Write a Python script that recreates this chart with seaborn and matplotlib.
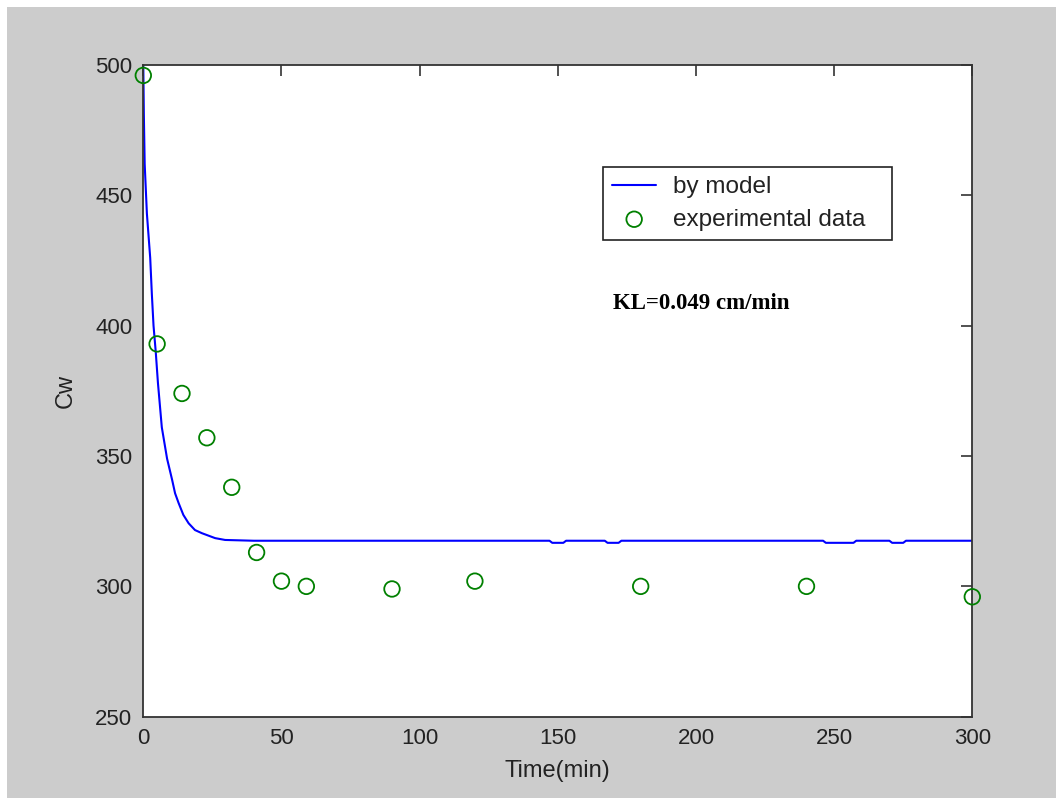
import matplotlib
matplotlib.use("Agg")
import matplotlib.pyplot as plt
from matplotlib.patches import Rectangle
import seaborn as sns
import pandas as pd

# Model prediction of Cw over time
time_model = [0, 0.2, 0.5, 1.3, 2.5, 3.1, 3.7, 4.5, 5.3, 6.7, 8.6, 10.4,
              11.5, 12.8, 14.5, 16.4, 18.7, 21.2, 26, 29.6, 40, 60, 100, 147,
              148, 152, 153, 167, 168, 172, 173, 246, 247, 257, 258, 270, 271,
              275, 276, 300]
cw_model = [500, 481, 462, 443, 426, 412, 400, 390, 378, 361, 349, 341,
            335.7, 331.9, 327.4, 324.2, 321.6, 320.4, 318.5, 317.8, 317.5,
            317.5, 317.5, 317.5, 316.7, 316.7, 317.5, 317.5, 316.7, 316.7,
            317.5, 317.5, 316.7, 316.7, 317.5, 317.5, 316.7, 316.7, 317.5,
            317.5]

# Measured concentrations
time_exp = [0, 5, 14, 23, 32, 41, 50, 59, 90, 120, 180, 240, 300]
cw_exp = [496, 393, 374, 357, 338, 313, 302, 300, 299, 302, 300, 300, 296]

x_ticks = [0, 50, 100, 150, 200, 250, 300]
y_ticks = [250, 300, 350, 400, 450, 500]

model_df = pd.DataFrame({"time": time_model, "cw": cw_model})
exp_df = pd.DataFrame({"time": time_exp, "cw": cw_exp})

sns.set_theme(style="white")
plt.rcParams["font.family"] = ["Liberation Sans", "DejaVu Sans"]

fig = plt.figure(figsize=(10.56, 7.98), dpi=100)
fig.patch.set_facecolor("#cccccc")
# thin white strips along the top and left edges
fig.add_artist(Rectangle((0, 1 - 7 / 798), 1, 7 / 798, transform=fig.transFigure,
                         facecolor="white", edgecolor="none", zorder=-1))
fig.add_artist(Rectangle((0, 0), 7 / 1056, 1, transform=fig.transFigure,
                         facecolor="white", edgecolor="none", zorder=-1))

ax = fig.add_axes([143.3 / 1056, 81.3 / 798, 829 / 1056, 651.7 / 798])
ax.set_facecolor("white")

sns.lineplot(data=model_df, x="time", y="cw", ax=ax, color="#0000ff",
             linewidth=1.5, label="by model", estimator=None, sort=False)
sns.scatterplot(data=exp_df, x="time", y="cw", ax=ax, marker="o", s=125,
                facecolor="none", edgecolor="#008000", linewidth=1.3,
                label="experimental data", clip_on=False, zorder=3)

ax.set_xlim(0, 300)
ax.set_ylim(250, 500)
ax.set_xticks(x_ticks)
ax.set_yticks(y_ticks)
ax.set_xlabel("Time(min)", fontsize=17, color="#222222", labelpad=8)
ax.set_ylabel("Cw", fontsize=17, color="#222222", labelpad=13)

ax.tick_params(direction="in", length=8, width=1.1, colors="#222222",
               labelsize=16, pad=8, top=True, right=True,
               labeltop=False, labelright=False)
for side in ax.spines.values():
    side.set_visible(True)
    side.set_color("#333333")
    side.set_linewidth(1.3)

leg = ax.legend(loc="upper left", bbox_to_anchor=(0.554, 0.734, 0.3495, 0.11),
                mode="expand", borderaxespad=0, fontsize=17.5, frameon=True,
                fancybox=False, edgecolor="#222222", framealpha=1,
                handlelength=1.8, handletextpad=0.7, borderpad=0.4,
                labelspacing=0.42)
leg.get_frame().set_linewidth(1.2)
for t in leg.get_texts():
    t.set_color("#222222")

ax.text(0.567, 0.634, "KL=0.049 cm/min", transform=ax.transAxes,
        fontsize=16.5, fontweight="bold", family="Liberation Serif",
        color="black", va="center", ha="left")

fig.savefig("out.png", dpi=100, facecolor=fig.get_facecolor())
